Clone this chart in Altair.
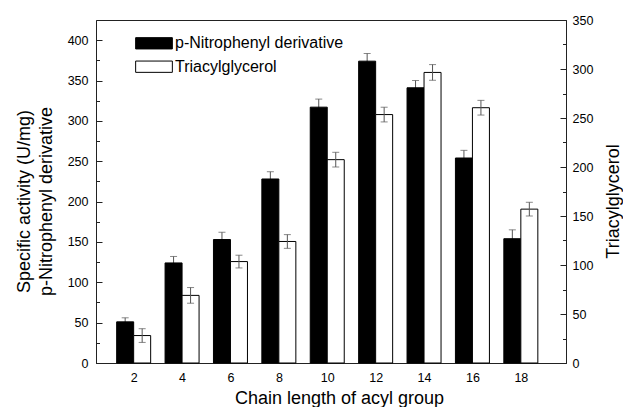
import altair as alt
import pandas as pd

# ---- data ----
chain = [2, 4, 6, 8, 10, 12, 14, 16, 18]
pnp = [51, 124, 153, 228, 317, 374, 341, 254, 154]          # left axis
pnp_err = [5, 8, 9, 9, 10, 9.5, 9, 9.5, 11]
tag = [28, 69, 103.5, 124, 207.5, 253.5, 296.5, 260.5, 157]  # right axis
tag_err = [7, 8, 6.5, 7, 7.5, 7.5, 8, 7.5, 7]

series_names = ["p-Nitrophenyl derivative", "Triacylglycerol"]
left_ticks = list(range(0, 401, 25))
right_ticks = list(range(0, 351, 25))

df = pd.DataFrame({"chain": chain, "pnp": pnp, "pnp_err": pnp_err,
                   "tag": tag, "tag_err": tag_err})

FONT = "Liberation Sans"
ERR = "#555555"
BW = 17

x_enc = alt.X(
    "chain:Q",
    scale=alt.Scale(domain=[0.65, 19.66], nice=False, zero=False),
    axis=alt.Axis(values=chain, ticks=False, tickSize=0, labelPadding=8, grid=False,
                  title="Chain length of acyl group", titleX=243, titleY=40,
                  titleAlign="center", titleBaseline="alphabetic", labelFlush=False),
)

inward = alt.ExprRef("datum.value % 50 === 0 ? -6 : -3.5")

left_axis = alt.Axis(
    orient="left", values=left_ticks, grid=False, tickSize=inward, labelPadding=14,
    labelExpr="datum.value % 50 === 0 ? datum.label : ''",
    title=["Specific activity (U/mg)", "p-Nitrophenyl derivative"],
    titleX=-66.5, titleY=181, titleAngle=270, titleAlign="center",
    titleBaseline="alphabetic", titleLineHeight=22,
)
right_axis = alt.Axis(
    orient="right", values=right_ticks, grid=False, tickSize=inward, labelPadding=12,
    labelExpr="datum.value % 50 === 0 ? datum.label : ''",
    title="Triacylglycerol",
    titleX=52, titleY=181, titleAngle=270, titleAlign="center",
    titleBaseline="alphabetic",
)

fill_enc = alt.Fill(
    "series:N",
    scale=alt.Scale(domain=series_names, range=["black", "white"]),
    legend=alt.Legend(
        title=None, orient="none", legendX=39, legendY=15.3, padding=0,
        symbolType="M-1,-0.308L1,-0.308L1,0.308L-1,0.308Z", symbolSize=1347,
        symbolStrokeColor="black", symbolStrokeWidth=1,
        labelFont=FONT, labelFontSize=16, labelOffset=2, labelColor="black",
        labelLimit=400, clipHeight=16, rowPadding=7.4,
    ),
)

left_scale = alt.Scale(domain=[0, 425], nice=False)
right_scale = alt.Scale(domain=[0, 350], nice=False)

base = alt.Chart(df)

# black series (left axis): error bars below, bars on top
b_rule = base.transform_calculate(lo="datum.pnp - datum.pnp_err", hi="datum.pnp + datum.pnp_err").mark_rule(
    color=ERR, strokeWidth=1, xOffset=-BW / 2).encode(
    x=x_enc, y=alt.Y("lo:Q", scale=left_scale, axis=left_axis), y2="hi:Q")
b_cap_hi = base.transform_calculate(hi="datum.pnp + datum.pnp_err").mark_tick(
    color=ERR, orient="horizontal", size=7, thickness=1, xOffset=-BW / 2).encode(
    x=x_enc, y=alt.Y("hi:Q", scale=left_scale, axis=left_axis))
b_bar = base.transform_calculate(series="'p-Nitrophenyl derivative'").mark_bar(
    width=BW, xOffset=-BW / 2, stroke="black", strokeWidth=1).encode(
    x=x_enc, y=alt.Y("pnp:Q", scale=left_scale, axis=left_axis), fill=fill_enc)
black = alt.layer(b_rule, b_cap_hi, b_bar)

# white series (right axis): bars, error bars on top
w_bar = base.transform_calculate(series="'Triacylglycerol'").mark_bar(
    width=BW, xOffset=BW / 2, stroke="black", strokeWidth=1).encode(
    x=x_enc, y=alt.Y("tag:Q", scale=right_scale, axis=right_axis), fill=fill_enc)
w_rule = base.transform_calculate(lo="datum.tag - datum.tag_err", hi="datum.tag + datum.tag_err").mark_rule(
    color=ERR, strokeWidth=1, xOffset=BW / 2).encode(
    x=x_enc, y=alt.Y("lo:Q", scale=right_scale, axis=right_axis), y2="hi:Q")
w_cap_hi = base.transform_calculate(hi="datum.tag + datum.tag_err").mark_tick(
    color=ERR, orient="horizontal", size=7, thickness=1, xOffset=BW / 2).encode(
    x=x_enc, y=alt.Y("hi:Q", scale=right_scale, axis=right_axis))
w_cap_lo = base.transform_calculate(lo="datum.tag - datum.tag_err").mark_tick(
    color=ERR, orient="horizontal", size=7, thickness=1, xOffset=BW / 2).encode(
    x=x_enc, y=alt.Y("lo:Q", scale=right_scale, axis=right_axis))
white = alt.layer(w_bar, w_rule, w_cap_hi, w_cap_lo)

chart = alt.layer(black, white).resolve_scale(y="independent").properties(
    width=470, height=343,
    autosize=alt.AutoSizeParams(type="none"),
    padding={"left": 96, "top": 20, "right": 57, "bottom": 44},
    background="white",
).configure_view(stroke="#222222", strokeWidth=1).configure_axis(
    domainColor="#222222", domainWidth=1, tickColor="#222222", tickWidth=1,
    labelFont=FONT, labelFontSize=12.5, labelColor="black",
    titleFont=FONT, titleFontSize=18, titleFontWeight="normal", titleColor="black",
)

chart.save("out.html", embed_options={"renderer": "svg", "actions": False})
